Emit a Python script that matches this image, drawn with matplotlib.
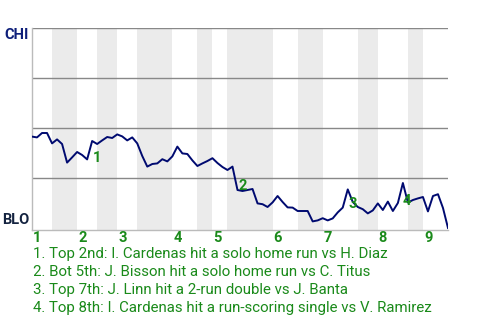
import matplotlib
matplotlib.use('Agg')
import matplotlib.pyplot as plt

plt.rcParams['font.family'] = ['Roboto', 'DejaVu Sans']

# win probability for CHI (%) after each plate appearance
winProb = [
  45.7, 45.3, 47.5, 47.5, 42.3, 44.3, 42.0, 32.7, 35.3, 38.0,
  36.5, 34.3, 43.5, 42.0, 43.8, 45.5, 45.0, 46.8, 45.8, 43.8,
  45.3, 42.3, 36.0, 30.7, 32.0, 32.3, 34.4, 33.3, 35.8, 40.7,
  37.3, 37.0, 33.8, 31.0, 32.3, 33.5, 34.9, 32.5, 30.5, 29.0,
  30.7, 19.0, 18.5, 19.0, 19.5, 12.3, 11.9, 10.5, 12.8, 16.0,
  13.0, 10.3, 10.2, 8.5, 8.5, 8.5, 3.3, 3.8, 4.9, 3.8,
  4.8, 7.8, 10.2, 19.3, 13.0, 10.5, 9.4, 7.3, 8.8, 12.3,
  9.0, 13.2, 8.5, 12.5, 22.5, 12.7, 14.0, 14.8, 15.5, 8.3,
  16.0, 16.9, 10.0, 0.0,
]
# plate appearance index where each half inning starts
halfStarts = [0, 4, 9, 13, 17, 21, 28, 33, 36, 39, 48, 53, 58, 65, 69, 75, 78]
gameEnd = 83
innings = [1, 2, 3, 4, 5, 6, 7, 8, 9]

eventIdx = [12, 41, 63, 74]
eventOffsets = [(1, -17), (1, 4), (1, -15), (0, -18)]
events = [
  '1. Top 2nd: I. Cardenas hit a solo home run vs H. Diaz',
  '2. Bot 5th: J. Bisson hit a solo home run vs C. Titus',
  '3. Top 7th: J. Linn hit a 2-run double vs J. Banta',
  '4. Top 8th: I. Cardenas hit a run-scoring single vs V. Ramirez',
]

green = '#1a8a1a'
navy = '#000a70'

fig = plt.figure(figsize=(4.8, 3.2), dpi=100)
ax = fig.add_axes([32/480, 1 - 229.5/320, 416/480, (229.5 - 28)/320])

# shade bottom halves
bounds = halfStarts + [gameEnd]
for k in range(1, len(halfStarts), 2):
  ax.axvspan(bounds[k], bounds[k + 1], color='#ebebeb', lw=0, zorder=0)

for g in [25, 50, 75, 100]:
  ax.axhline(g, color='#888888', lw=1.0, zorder=1)

ax.plot(range(len(winProb)), winProb, color=navy, lw=1.4, zorder=3)

ax.set_xlim(0, gameEnd)
ax.set_ylim(-0.75, 100)
for s in ['top', 'right']:
  ax.spines[s].set_visible(False)
for s in ['left', 'bottom']:
  ax.spines[s].set_color('#bbbbbb')
  ax.spines[s].set_linewidth(1.0)
ax.set_xticks([])
ax.set_yticks([])

for n in innings:
  ax.annotate(str(n), xy=(halfStarts[2 * (n - 1)], 0), xycoords=('data', 'axes fraction'),
    xytext=(1, -8.5), textcoords='offset pixels', ha='left', va='center',
    color=green, fontsize=10.5, fontweight='bold')

for k, (i, off) in enumerate(zip(eventIdx, eventOffsets)):
  ax.annotate(str(k + 1), xy=(i, winProb[i]), xytext=off, textcoords='offset pixels',
    ha='left', va='center', color=green, fontsize=10.5, fontweight='bold', zorder=4)

fig.text(29/480, 1 - 35/320, 'CHI', ha='right', va='center', color='#0e1f7a',
  fontsize=10.5, fontweight='bold')
fig.text(29/480, 1 - 220/320, 'BLO', ha='right', va='center', color='#142340',
  fontsize=10.5, fontweight='bold')

for k, line in enumerate(events):
  fig.text(33/480, 1 - (254 + 18 * k)/320, line, ha='left', va='center',
    color=green, fontsize=10.8)

fig.savefig('out.png', dpi=100)
